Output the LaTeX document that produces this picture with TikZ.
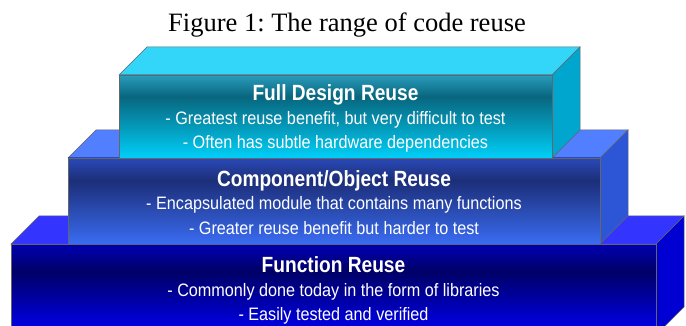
\documentclass[tikz,border=0pt]{standalone}
\usepackage{fontspec}
\setmainfont{Liberation Serif}
\newfontfamily\boxfont[FakeStretch=0.87]{Liberation Sans}
\newfontfamily\linefont[FakeStretch=0.9]{Liberation Sans}
\usepackage{xcolor}
\usepackage{tikz}
\usetikzlibrary{calc}
\frenchspacing

\definecolor{fdhigh}{HTML}{2A9CBC}
\definecolor{fdmid}{HTML}{08667E}
\definecolor{fdlow}{HTML}{00CFF8}
\definecolor{fdroof}{HTML}{33D5F9}
\definecolor{fdside}{HTML}{00A6CE}
\definecolor{cohigh}{HTML}{2A4AB8}
\definecolor{comid}{HTML}{1C2E78}
\definecolor{colow}{HTML}{3A6CF2}
\definecolor{coroof}{HTML}{527FFF}
\definecolor{coside}{HTML}{2D56D6}
\definecolor{fnhigh}{HTML}{0000B4}
\definecolor{fnmid}{HTML}{000066}
\definecolor{fnlow}{HTML}{0000F4}
\definecolor{fnroof}{HTML}{3434FF}
\definecolor{fnside}{HTML}{0000D2}

\pgfdeclareverticalshading{fdshade}{100bp}{color(0bp)=(fdlow); color(25bp)=(fdlow); color(62bp)=(fdmid); color(75bp)=(fdhigh); color(100bp)=(fdhigh)}
\pgfdeclareverticalshading{coshade}{100bp}{color(0bp)=(colow); color(25bp)=(colow); color(62bp)=(comid); color(75bp)=(cohigh); color(100bp)=(cohigh)}
\pgfdeclareverticalshading{fnshade}{100bp}{color(0bp)=(fnlow); color(25bp)=(fnlow); color(60bp)=(fnmid); color(75bp)=(fnhigh); color(100bp)=(fnhigh)}

\tikzset{
  face/.style={draw=black!60, line width=0.5pt},
  boxtitle/.style={text=white, font=\boxfont\bfseries\fontsize{22}{22}\selectfont},
  boxline/.style={text=white, font=\linefont\fontsize{18}{18}\selectfont},
}

\begin{document}
\begin{tikzpicture}[x=1pt,y=-1pt]
        \useasboundingbox (0,0) rectangle (686,326);
        \node[font=\fontsize{26.5}{26.5}\selectfont, anchor=base] (caption) at (347,31.5) {Figure 1: The range of code reuse};

        % function reuse
        \coordinate (fna) at (11,244);
        \coordinate (fnc) at (656,335);
        \coordinate (fnb) at (fnc |- fna);
        \draw[face, fill=fnroof] (fna)--(fnb)--($(fnb)+(28,-28)$)--($(fna)+(28,-28)$)--cycle;
        \draw[face, fill=fnside] (fnb)--($(fnb)+(28,-28)$)--($(fnc)+(28,-28)$)--(fnc)--cycle;
        \draw[face, shading=fnshade] (fna) rectangle (fnc);
        \node[boxtitle, anchor=base] (fntitle) at (333.5,272) {Function Reuse};
        \node[boxline, anchor=base] (fnone) at (333.5,296) {- Commonly done today in the form of libraries};
        \node[boxline, anchor=base] (fntwo) at (333.5,320) {- Easily tested and verified};

        % component/object reuse
        \coordinate (coa) at (68,158);
        \coordinate (coc) at (600,244);
        \coordinate (cob) at (coc |- coa);
        \draw[face, fill=coroof] (coa)--(cob)--($(cob)+(28,-28)$)--($(coa)+(28,-28)$)--cycle;
        \draw[face, fill=coside] (cob)--($(cob)+(28,-28)$)--($(coc)+(28,-28)$)--(coc)--cycle;
        \draw[face, shading=coshade] (coa) rectangle (coc);
        \node[boxtitle, anchor=base] (cotitle) at (334,186) {Component/Object Reuse};
        \node[boxline, anchor=base] (coone) at (334,210) {- Encapsulated module that contains many functions};
        \node[boxline, anchor=base] (cotwo) at (334,234) {- Greater reuse benefit but harder to test};

        % full design reuse
        \coordinate (fda) at (119,75);
        \coordinate (fdc) at (552,158);
        \coordinate (fdb) at (fdc |- fda);
        \draw[face, fill=fdroof] (fda)--(fdb)--($(fdb)+(28,-28)$)--($(fda)+(28,-28)$)--cycle;
        \draw[face, fill=fdside] (fdb)--($(fdb)+(28,-28)$)--($(fdc)+(28,-28)$)--(fdc)--cycle;
        \draw[face, shading=fdshade] (fda) rectangle (fdc);
        \node[boxtitle, anchor=base] (fdtitle) at (335.5,100.5) {Full Design Reuse};
        \node[boxline, anchor=base] (fdone) at (335.5,125) {- Greatest reuse benefit, but very difficult to test};
        \node[boxline, anchor=base] (fdtwo) at (335.5,149) {- Often has subtle hardware dependencies};
    \end{tikzpicture}
\end{document}
